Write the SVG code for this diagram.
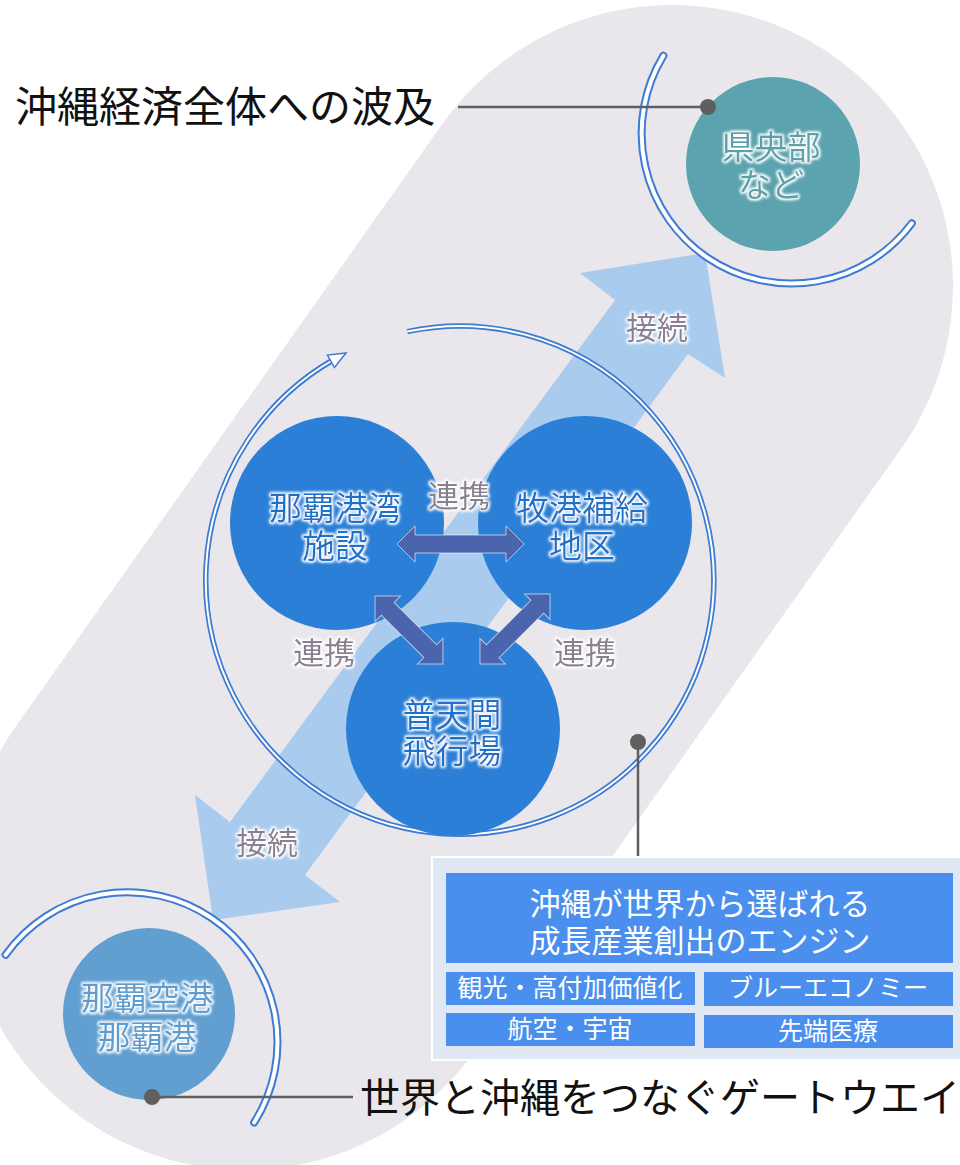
<svg xmlns="http://www.w3.org/2000/svg" width="960" height="1165" viewBox="0 0 960 1165">
<defs>
<filter id="wg" x="-20%" y="-30%" width="140%" height="160%">
<feMorphology in="SourceAlpha" operator="dilate" radius="1.3" result="d"/>
<feGaussianBlur in="d" stdDeviation="1.6" result="b"/>
<feFlood flood-color="#ffffff"/>
<feComposite in2="b" operator="in" result="g"/>
<feMerge><feMergeNode in="g"/><feMergeNode in="g"/><feMergeNode in="SourceGraphic"/></feMerge>
</filter>
<filter id="soft" x="-10%" y="-10%" width="120%" height="120%">
<feGaussianBlur stdDeviation="0.7"/>
</filter>
</defs>
<style>
text{font-family:"Noto Sans CJK JP","Noto Sans",sans-serif;text-anchor:middle}
.big{fill:#111;text-anchor:start}
.ctext{font-size:33px}
.lbl{font-size:31px;fill:#8b8090;filter:url(#wg)}
.ringb{fill:none;stroke:#3d7bd2;filter:url(#soft)}
.ringw{fill:none;stroke:#ffffff}
.darr{fill:#4a64ae;stroke:#ffffff;stroke-width:1;stroke-opacity:0.6}
.lead{stroke:#5f5f5f;stroke-width:2.5;fill:none}
.dot{fill:#5f5f5f}
.box{fill:#4a8fee}
.wt{fill:#ffffff}
</style>

<rect width="960" height="1165" fill="#ffffff"/>
<line x1="245" y1="889" x2="672" y2="286" stroke="#e9e7eb" stroke-width="562" stroke-linecap="round"/>

<g id="connectors">
<polygon id="main-arrow" fill="#a8cbee" points="705,253 725,378 688,354 305,875 340,902 213,920 195,795 230,822 615,300 580,273"/>
<path class="ringb" stroke-width="5.5" d="M407.2,331.6 A254,254 0 1 1 333,360"/>
<path class="ringw" stroke-width="2" d="M407.2,331.6 A254,254 0 1 1 333,360"/>
<polygon points="346,353 334.5,367.5 327.5,355" fill="#ffffff" stroke="#3d7bd2" stroke-width="1.5"/>
<path class="ringb" stroke-width="8" stroke-linecap="round" d="M663.4,55.7 A150,150 0 0 0 911.8,223.3"/>
<path class="ringw" stroke-width="4" stroke-linecap="round" d="M663.4,55.7 A150,150 0 0 0 911.8,223.3"/>
<path class="ringb" stroke-width="8" stroke-linecap="round" d="M5.6,954.8 A150,150 0 0 1 254.2,1122.5"/>
<path class="ringw" stroke-width="4" stroke-linecap="round" d="M5.6,954.8 A150,150 0 0 1 254.2,1122.5"/>
<text class="lbl" x="657" y="339">接続</text>
<text class="lbl" x="267" y="854">接続</text>
</g>

<g id="node-naha-port">
<circle cx="337" cy="523" r="107" fill="#2b7fd6"/>
<text class="ctext" fill="#1f72cb" filter="url(#wg)" x="335" y="520">那覇港湾<tspan x="335" dy="38">施設</tspan></text>
</g>
<g id="node-makiminato">
<circle cx="585" cy="523" r="107" fill="#2b7fd6"/>
<text class="ctext" fill="#1f72cb" filter="url(#wg)" x="582" y="520">牧港補給<tspan x="582" dy="38">地区</tspan></text>
</g>
<g id="node-futenma">
<circle cx="453" cy="729" r="107" fill="#2b7fd6"/>
<text class="ctext" fill="#1f72cb" filter="url(#wg)" x="452" y="727">普天間<tspan x="452" dy="36">飛行場</tspan></text>
</g>

<g id="links">
<polygon class="darr" points="397,544 415,526 415,535 506,535 506,526 524,544 506,562 506,553 415,553 415,562"/>
<polygon class="darr" transform="translate(409,630) rotate(45)" points="-48,0 -30,-18 -30,-9 30,-9 30,-18 48,0 30,18 30,9 -30,9 -30,18"/>
<polygon class="darr" transform="translate(515,629) rotate(-45)" points="-49.5,0 -31.5,-18 -31.5,-9 31.5,-9 31.5,-18 49.5,0 31.5,18 31.5,9 -31.5,9 -31.5,18"/>
<text class="lbl" x="459" y="507">連携</text>
<text class="lbl" x="324" y="664">連携</text>
<text class="lbl" x="585" y="664">連携</text>
</g>

<g id="node-central">
<circle cx="773" cy="164" r="87" fill="#5ba3ae"/>
<text class="ctext" fill="#5aa1ac" filter="url(#wg)" x="771" y="159">県央部<tspan x="771" dy="38">など</tspan></text>
</g>

<g id="node-naha-airport">
<circle cx="149" cy="1014" r="86" fill="#629fd1"/>
<text class="ctext" fill="#5f9dd0" filter="url(#wg)" x="147" y="1010">那覇空港<tspan x="147" dy="39">那覇港</tspan></text>
</g>

<g id="callouts">
<line class="lead" x1="458" y1="107" x2="708" y2="107"/>
<circle class="dot" cx="708" cy="107" r="8"/>
<text class="big" x="15" y="122" font-size="42">沖縄経済全体への波及</text>
<line class="lead" x1="152" y1="1097" x2="353" y2="1097"/>
<circle class="dot" cx="152" cy="1097" r="8"/>
<text class="big" x="360" y="1112" font-size="40">世界と沖縄をつなぐゲートウエイ</text>
<line class="lead" x1="638" y1="742" x2="638" y2="858"/>
<circle class="dot" cx="638" cy="742" r="8"/>
</g>

<g id="node-engine">
<rect x="432" y="857" width="530" height="203" fill="#dfe8f3" stroke="#ffffff" stroke-width="2"/>
<rect class="box" x="446" y="873" width="507" height="90"/>
<text class="wt" x="700" y="915" font-size="31">沖縄が世界から選ばれる<tspan x="700" dy="37">成長産業創出のエンジン</tspan></text>
<rect class="box" x="446" y="972" width="249" height="33"/>
<text class="wt" x="570" y="997" font-size="25">観光・高付加価値化</text>
<rect class="box" x="704" y="972" width="249" height="34"/>
<text class="wt" x="828" y="997" font-size="25">ブルーエコノミー</text>
<rect class="box" x="446" y="1013" width="249" height="33"/>
<text class="wt" x="570" y="1038" font-size="25">航空・宇宙</text>
<rect class="box" x="704" y="1015" width="249" height="33"/>
<text class="wt" x="828" y="1040" font-size="25">先端医療</text>
</g>
</svg>
